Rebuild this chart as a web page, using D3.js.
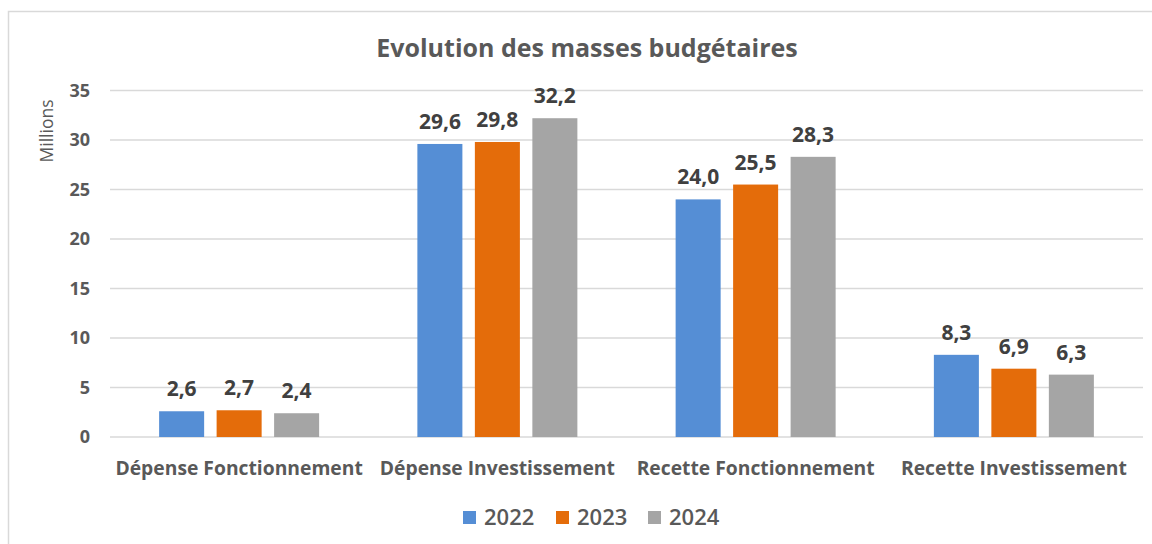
<!DOCTYPE html>
<html>
<head>
<meta charset="utf-8">
<script src="https://cdn.jsdelivr.net/npm/d3@7"></script>
<style>
  body { margin: 0; background: #fff; }
  svg text { font-family: "Open Sans", "Noto Sans", sans-serif; }
</style>
</head>
<body>
<svg id="chart" width="1152" height="544"></svg>
<script>
var categories = ["Dépense Fonctionnement", "Dépense Investissement", "Recette Fonctionnement", "Recette Investissement"]
var years = ["2022", "2023", "2024"]
var values2022 = [2.6, 29.6, 24.0, 8.3]
var values2023 = [2.7, 29.8, 25.5, 6.9]
var values2024 = [2.4, 32.2, 28.3, 6.3]
var yTicks = [0, 5, 10, 15, 20, 25, 30, 35]

var series = [values2022, values2023, values2024]
var margin = { top: 90.5, left: 110, right: 9, bottom: 107 }
var width = 1152, height = 544

var svg = d3.select("#chart")

// outer frame of the chart object
svg.append("rect")
    .attr("x", 8.5).attr("y", 11.5)
    .attr("width", 1200).attr("height", 600)
    .attr("fill", "none")
    .attr("stroke", "#d9d9d9")
    .attr("stroke-width", 1.5)

var x0 = d3.scaleBand()
    .domain(categories)
    .range([margin.left, width - margin.right])

var groupW = 160
var x1 = d3.scaleBand()
    .domain(years)
    .range([0, groupW])
    .paddingInner(0.217)

var y = d3.scaleLinear()
    .domain([0, 35])
    .range([height - margin.bottom, margin.top])

var color = d3.scaleOrdinal()
    .domain(years)
    .range(["#558ed5", "#e46c0a", "#a5a5a5"])

// grid lines
svg.append("g")
    .selectAll("line")
    .data(yTicks)
    .join("line")
    .attr("x1", margin.left)
    .attr("x2", width - margin.right)
    .attr("y1", d => y(d))
    .attr("y2", d => y(d))
    .attr("stroke", "#d9d9d9")
    .attr("stroke-width", 1.5)

// y axis labels
var yAxis = svg.append("g")
    .attr("transform", "translate(" + margin.left + ",0)")
    .call(d3.axisLeft(y).tickValues(yTicks).tickSize(0).tickPadding(20))
yAxis.select(".domain").remove()
yAxis.selectAll("text")
    .attr("font-family", "'Open Sans', sans-serif")
    .style("font-size", "18px")
    .style("font-weight", "bold")
    .attr("fill", "#595959")

svg.append("text")
    .attr("transform", "translate(53,131) rotate(-90)")
    .attr("text-anchor", "middle")
    .style("font-size", "17.5px")
    .attr("fill", "#595959")
    .text("Millions")

// x category labels
svg.append("g")
    .selectAll("text")
    .data(categories)
    .join("text")
    .attr("x", d => x0(d) + x0.bandwidth() / 2)
    .attr("y", 475)
    .attr("text-anchor", "middle")
    .style("font-size", "19.3px")
    .style("font-weight", "bold")
    .attr("fill", "#595959")
    .text(d => d)

// bars
var groups = svg.append("g")
    .selectAll("g")
    .data(categories)
    .join("g")
    .attr("transform", d => "translate(" + (x0(d) + (x0.bandwidth() - groupW) / 2) + ",0)")

var bars = groups.selectAll("g")
    .data((d, ci) => years.map((yr, si) => ({ key: yr, value: series[si][ci] })))
    .join("g")

bars.append("rect")
    .attr("x", d => x1(d.key))
    .attr("y", d => y(d.value))
    .attr("width", x1.bandwidth())
    .attr("height", d => y(0) - y(d.value))
    .attr("fill", d => color(d.key))

bars.append("text")
    .attr("x", d => x1(d.key) + x1.bandwidth() / 2)
    .attr("y", d => y(d.value) - 15)
    .attr("text-anchor", "middle")
    .style("font-size", "21px")
    .style("font-weight", "bold")
    .attr("fill", "#404040")
    .text(d => d.value.toFixed(1).replace(".", ","))

// title
svg.append("text")
    .attr("x", 587)
    .attr("y", 57)
    .attr("text-anchor", "middle")
    .style("font-size", "25px")
    .style("font-weight", "bold")
    .attr("fill", "#595959")
    .text("Evolution des masses budgétaires")

// legend
var legendX = [463, 556, 648]
var legend = svg.append("g")
    .selectAll("g")
    .data(years)
    .join("g")
    .attr("transform", (d, i) => "translate(" + legendX[i] + ",511)")

legend.append("rect")
    .attr("width", 13).attr("height", 13)
    .attr("fill", d => color(d))

legend.append("text")
    .attr("x", 21)
    .attr("y", 14)
    .style("font-size", "22px")
    .style("font-weight", "600")
    .attr("fill", "#595959")
    .text(d => d)
</script>
</body>
</html>
